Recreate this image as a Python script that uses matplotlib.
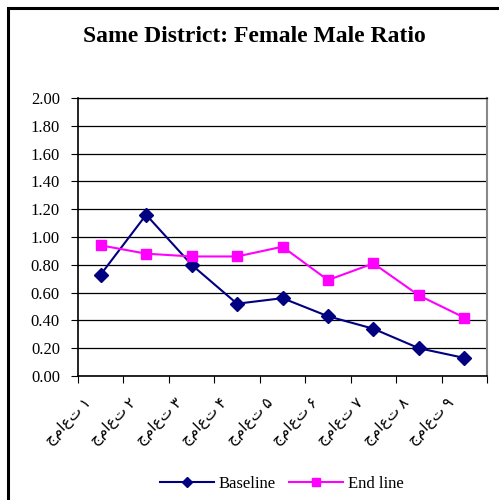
import matplotlib
matplotlib.use('Agg')
import matplotlib.pyplot as plt
import matplotlib.transforms as mtransforms
import numpy as np
from matplotlib.patches import Rectangle

plt.rcParams['font.family'] = ['Liberation Serif', 'DejaVu Sans']

# data
grades = ['جماعت ۱', 'جماعت ۲', 'جماعت ۳', 'جماعت ۴', 'جماعت ۵',
          'جماعت ۶', 'جماعت ۷', 'جماعت ۸', 'جماعت ۹']
baseline = [0.73, 1.16, 0.80, 0.52, 0.56, 0.43, 0.34, 0.20, 0.13]
endline = [0.94, 0.88, 0.86, 0.86, 0.93, 0.69, 0.81, 0.58, 0.42]
yticks = [0.0, 0.2, 0.4, 0.6, 0.8, 1.0, 1.2, 1.4, 1.6, 1.8, 2.0]

fig = plt.figure(figsize=(4.99, 5.0), dpi=100)
# outer frame (only left and top visible in the reference)
fig.patches.append(Rectangle((7.5 / 499, -0.1), 1.2, 1.1 - 8.5 / 500,
                             transform=fig.transFigure, fill=False,
                             edgecolor='black', linewidth=2.2))

ax = fig.add_axes([78 / 499, 1 - 376 / 500, (487 - 78) / 499, (376 - 98) / 500])
x = np.arange(len(grades))

ax.plot(x, baseline, color='#000080', marker='D', markersize=7,
        linewidth=1.5, label='Baseline', zorder=3)
ax.plot(x, endline, color='#ff00ff', marker='s', markersize=7.5,
        linewidth=1.5, label='End line', zorder=3)

ax.set_xlim(-0.5, len(grades) - 0.5)
ax.set_ylim(0, 2.0)
ax.set_yticks(yticks)
ax.set_yticklabels(['%.2f' % v for v in yticks], fontsize=12)
ax.yaxis.grid(True, color='black', linewidth=0.9)
ax.set_axisbelow(True)

ax.set_xticks(np.arange(-0.5, len(grades)), minor=False)
ax.set_xticklabels([])
ax.set_xticks(x, minor=True)
ax.set_xticklabels(grades, minor=True, rotation=45, ha='right',
                   rotation_mode='anchor', fontsize=11)
ax.tick_params(axis='x', which='minor', length=0, pad=14)
ax.tick_params(axis='x', which='major', length=5, direction='out')
ax.tick_params(axis='y', length=5, direction='out', pad=8)

# labels sit a bit left of the category centre in the reference
shift = mtransforms.ScaledTranslation(-0.17, 0, fig.dpi_scale_trans)
for lab in ax.get_xticklabels(minor=True):
    lab.set_transform(lab.get_transform() + shift)

ax.spines['top'].set_color('black')
ax.spines['top'].set_linewidth(0.9)
ax.spines['right'].set_color('#888888')
ax.spines['right'].set_linewidth(1.5)
ax.spines['left'].set_linewidth(1.2)
ax.spines['bottom'].set_linewidth(1.2)

fig.text(0.51, 1 - 36 / 500, 'Same District: Female Male Ratio',
         ha='center', va='center', fontsize=17, fontweight='bold')

fig.legend(loc='center', bbox_to_anchor=(0.565, 1 - 484 / 500), ncol=2,
           frameon=False, fontsize=12, handlelength=3.2, columnspacing=0.8,
           handletextpad=0.3, markerscale=0.8)

fig.savefig('out.png', dpi=100)
